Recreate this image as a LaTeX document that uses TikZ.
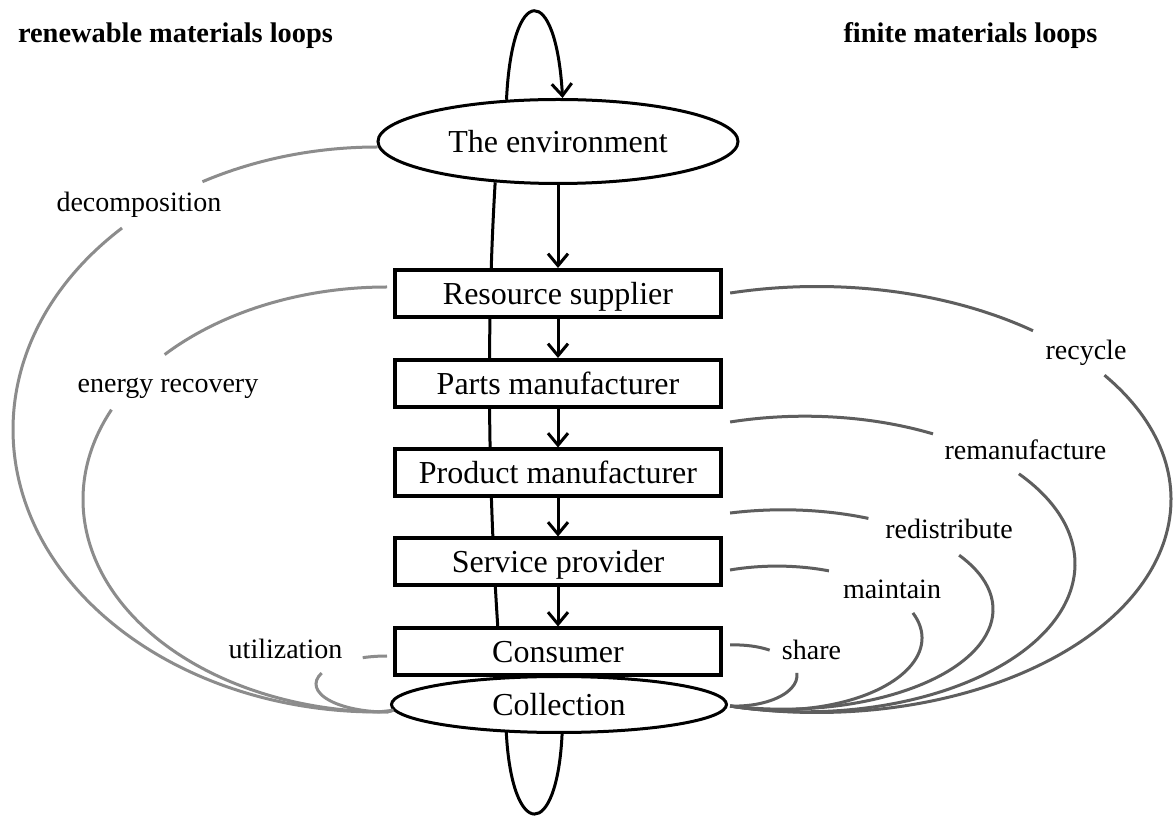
\documentclass[tikz,border=0pt]{standalone}
\usepackage{fontspec}
\setmainfont{Liberation Serif}
\usetikzlibrary{arrows.meta,shapes.geometric,backgrounds}
\definecolor{leftgray}{HTML}{8C8C8C}
\definecolor{rightgray}{HTML}{5E5E5E}
\newcommand\myarc[6]{\draw[#1] ([shift={(#5:#3 and #4)}]#2) arc[start angle=#5,end angle=#6,x radius=#3,y radius=#4];}
\begin{document}
\begin{tikzpicture}[x=0.5pt,y=-0.5pt,
  box/.style={draw,line width=2pt,fill=white,minimum width=163pt,minimum height=23.5pt,inner sep=0pt,font=\fontsize{16}{19}\selectfont,text height=10.6pt,text depth=0pt},
  oval/.style={ellipse,draw,line width=1.5pt,fill=white,inner sep=0pt,font=\fontsize{16}{19}\selectfont,text height=10.6pt,text depth=0pt},
  lbl/.style={anchor=base,inner sep=0pt,font=\fontsize{14}{17}\selectfont},
  ttl/.style={anchor=base,inner sep=0pt,font=\fontsize{14.2}{17}\selectfont\bfseries},
  arr/.style={line width=1.5pt,-{Straight Barb[length=6pt,width=10pt]}},
  blk/.style={line width=1.5pt},
  lg/.style={line width=1.5pt,color=leftgray},
  rg/.style={line width=1.5pt,color=rightgray}]
\useasboundingbox (0,0) rectangle (1173,817);

% titles
\node[ttl] (tl) at (175.5,43) {renewable materials loops};
\node[ttl] (tr) at (970.5,43) {finite materials loops};

% main nodes
\node[oval,minimum width=180pt,minimum height=42pt] (env) at (558,141.5) {The environment};
\node[box] (rs) at (558,293.5) {Resource supplier};
\node[box] (pm) at (558,383.5) {Parts manufacturer};
\node[box] (pd) at (558,473) {Product manufacturer};
\node[box] (sp) at (558,562) {Service provider};
\node[box] (cn) at (558,652) {Consumer};
\node[oval,minimum width=167.5pt,minimum height=28pt] (coll) at (559,704.5) {Collection};

% background: white page and the long loop behind the nodes
\begin{scope}[on background layer]
\fill[white] (0,0) rectangle (1173,817);
\draw[blk] (env.213) .. controls (484,370) and (490,560) .. (coll.208)
  .. controls (512,841) and (557,841) .. (coll.276);
\end{scope}

% top loop into the environment
\draw[arr] (env.141) .. controls (512,-18) and (556,-18) .. (env.84);

% chain arrows
\draw[arr] (env.south) -- (rs.north);
\draw[arr] (rs.south) -- (pm.north);
\draw[arr] (pm.south) -- (pd.north);
\draw[arr] (pd.south) -- (sp.north);
\draw[arr] (sp.south) -- (cn.north);

% ellipse centres of the loops
\coordinate (dC) at (377.5,429.5);
\coordinate (eC) at (387,499.5);
\coordinate (uC) at (387,684);
\coordinate (rcC) at (817,499.5);
\coordinate (rmC) at (805,564);
\coordinate (rdC) at (783,609.5);
\coordinate (mtC) at (777,638);
\coordinate (shC) at (735,675.5);

% renewable loops (left)
\myarc{lg}{dC}{182.25pt}{141.25pt}{90}{118.7}
\draw[lg] ([shift={(134.5:182.25pt and 141.25pt)}]dC) arc[start angle=134.5,end angle=270,x radius=182.25pt,y radius=141.25pt] -- (coll.182.6);
\myarc{lg}{eC}{152pt}{106.25pt}{90}{137}
\draw[lg] ([shift={(155:152pt and 106.25pt)}]eC) arc[start angle=155,end angle=270,x radius=152pt,y radius=106.25pt] -- (coll.182.6);
\myarc{lg}{uC}{35.5pt}{14pt}{90}{110}
\draw[lg] ([shift={(157:35.5pt and 14pt)}]uC) arc[start angle=157,end angle=270,x radius=35.5pt,y radius=14pt] -- (coll.182.6);

% finite loops (right)
\myarc{rg}{rcC}{177pt}{106.5pt}{104.2}{52.4}
\myarc{rg}{rcC}{177pt}{106.5pt}{35.7}{-104.2}
\myarc{rg}{rmC}{135pt}{73.9pt}{106.1}{61.7}
\myarc{rg}{rmC}{135pt}{73.9pt}{37.6}{-106.1}
\myarc{rg}{rdC}{105pt}{49.85pt}{104.6}{66}
\myarc{rg}{rdC}{105pt}{49.85pt}{33}{-104.6}
\myarc{rg}{mtC}{72.5pt}{35.95pt}{108.9}{69}
\myarc{rg}{mtC}{72.5pt}{35.95pt}{20.4}{-108.9}
\myarc{rg}{shC}{31pt}{15.3pt}{94.6}{56}
\myarc{rg}{shC}{31pt}{15.3pt}{5}{-94.6}

% labels
\node[lbl] (l1) at (139,212) {decomposition};
\node[lbl] (l2) at (168,393) {energy recovery};
\node[lbl] (l3) at (285.5,659) {utilization};
\node[lbl] (r1) at (1086,360) {recycle};
\node[lbl] (r2) at (1025.5,460) {remanufacture};
\node[lbl] (r3) at (949,539) {redistribute};
\node[lbl] (r4) at (892,599) {maintain};
\node[lbl] (r5) at (811.5,660) {share};
\end{tikzpicture}
\end{document}
